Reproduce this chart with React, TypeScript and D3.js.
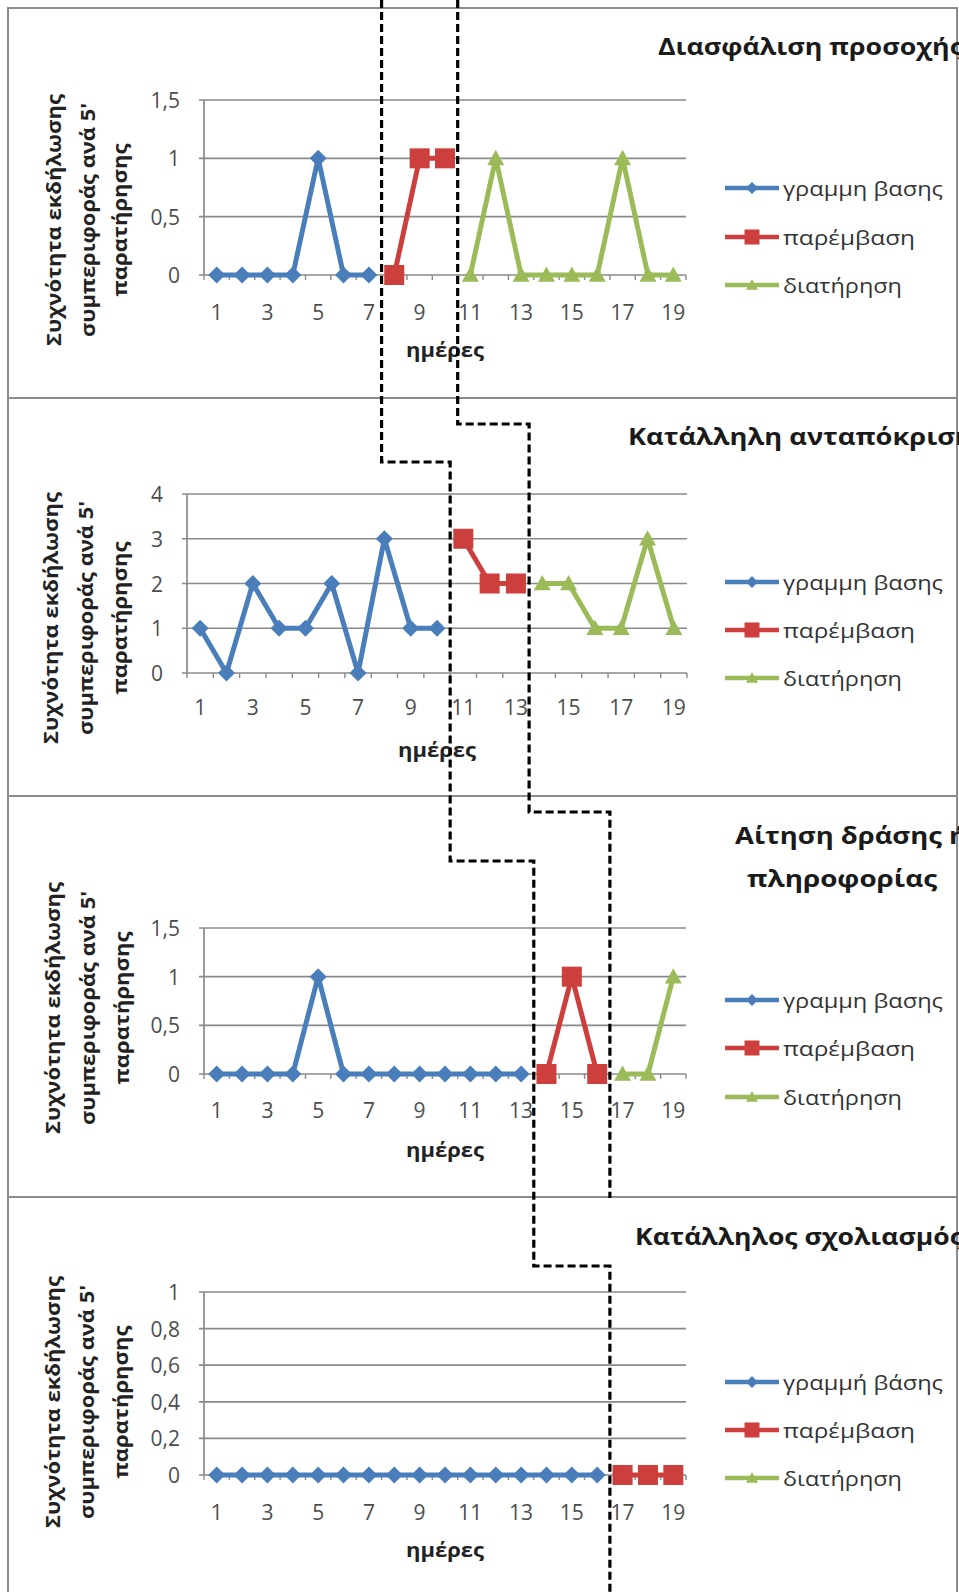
import React from "react";
import * as d3 from "d3";

// days on the x axis and the ones that carry a label
const days = [1, 2, 3, 4, 5, 6, 7, 8, 9, 10, 11, 12, 13, 14, 15, 16, 17, 18, 19];
const dayLabels = [1, 3, 5, 7, 9, 11, 13, 15, 17, 19];

const yTitleLines = ["Συχνότητα εκδήλωσης", "συμπεριφοράς ανά 5'", "παρατήρησης"];
const xTitle = "ημέρες";
const seriesNames = ["γραμμη βασης", "παρέμβαση", "διατήρηση"];
const seriesNamesLast = ["γραμμή βάσης", "παρέμβαση", "διατήρηση"];

// panel 1
const p1Title = ["Διασφάλιση προσοχής"];
const p1Baseline = [0, 0, 0, 0, 1, 0, 0];
const p1Intervention = [0, 1, 1];
const p1Maintenance = [0, 1, 0, 0, 0, 0, 1, 0, 0];
const p1Ticks = [0, 0.5, 1, 1.5];
const p1TickLabels = ["0", "0,5", "1", "1,5"];

// panel 2
const p2Title = ["Κατάλληλη ανταπόκριση"];
const p2Baseline = [1, 0, 2, 1, 1, 2, 0, 3, 1, 1];
const p2Intervention = [3, 2, 2];
const p2Maintenance = [2, 2, 1, 1, 3, 1];
const p2Ticks = [0, 1, 2, 3, 4];
const p2TickLabels = ["0", "1", "2", "3", "4"];

// panel 3
const p3Title = ["Αίτηση δράσης ή", "πληροφορίας"];
const p3Baseline = [0, 0, 0, 0, 1, 0, 0, 0, 0, 0, 0, 0, 0];
const p3Intervention = [0, 1, 0];
const p3Maintenance = [0, 0, 1];
const p3Ticks = [0, 0.5, 1, 1.5];
const p3TickLabels = ["0", "0,5", "1", "1,5"];

// panel 4
const p4Title = ["Κατάλληλος σχολιασμός"];
const p4Baseline = [0, 0, 0, 0, 0, 0, 0, 0, 0, 0, 0, 0, 0, 0, 0, 0];
const p4Intervention = [0, 0, 0];
const p4Maintenance: number[] = [];
const p4Ticks = [0, 0.2, 0.4, 0.6, 0.8, 1];
const p4TickLabels = ["0", "0,2", "0,4", "0,6", "0,8", "1"];

const BLUE = "#4a7ebb";
const RED = "#cc3f3c";
const GREEN = "#9bbb59";
const GRID = "#8a8a8a";
const FONT = "'Open Sans', 'DejaVu Sans', sans-serif";

const W = 959;
const H = 1592;

const panels = [
  {
    title: p1Title, series: [p1Baseline, p1Intervention, p1Maintenance], ticks: p1Ticks, tickLabels: p1TickLabels,
    names: seriesNames,
    top: 8, bottom: 398, left: 204, right: 686, plotTop: 100, plotBottom: 275,
    yTitleX: [54, 88, 120], yTitleY: 220, tickY: 312, xTitleY: 350, legendY: [188, 237, 285],
    titlePos: [{ x: 658, y: 46, len: 305 }],
  },
  {
    title: p2Title, series: [p2Baseline, p2Intervention, p2Maintenance], ticks: p2Ticks, tickLabels: p2TickLabels,
    names: seriesNames,
    top: 398, bottom: 796, left: 187, right: 687, plotTop: 494, plotBottom: 673,
    yTitleX: [51, 86, 120], yTitleY: 618, tickY: 707, xTitleY: 750, legendY: [582, 630, 678],
    titlePos: [{ x: 628, y: 436, len: 345 }],
  },
  {
    title: p3Title, series: [p3Baseline, p3Intervention, p3Maintenance], ticks: p3Ticks, tickLabels: p3TickLabels,
    names: seriesNames,
    top: 796, bottom: 1197, left: 204, right: 686, plotTop: 928, plotBottom: 1074,
    yTitleX: [53, 88, 122], yTitleY: 1008, tickY: 1110, xTitleY: 1150, legendY: [1000, 1048, 1097],
    titlePos: [{ x: 735, y: 835, len: 232 }, { x: 747, y: 878, len: 190 }],
  },
  {
    title: p4Title, series: [p4Baseline, p4Intervention, p4Maintenance], ticks: p4Ticks, tickLabels: p4TickLabels,
    names: seriesNamesLast,
    top: 1197, bottom: 1610, left: 204, right: 686, plotTop: 1292, plotBottom: 1475,
    yTitleX: [53, 87, 121], yTitleY: 1402, tickY: 1512, xTitleY: 1550, legendY: [1382, 1430, 1478],
    titlePos: [{ x: 635, y: 1236, len: 328 }],
  },
];

const colors = [BLUE, RED, GREEN];

function Marker({ kind, x, y, s }: { kind: number; x: number; y: number; s: number }) {
  const c = colors[kind];
  if (kind === 0) {
    return <path d={`M${x},${y - s}L${x + s},${y}L${x},${y + s}L${x - s},${y}Z`} fill={c} />;
  }
  if (kind === 1) {
    return <rect x={x - s} y={y - s} width={2 * s} height={2 * s} fill={c} />;
  }
  return <path d={`M${x},${y - s}L${x + s},${y + s * 0.8}L${x - s},${y + s * 0.8}Z`} fill={c} />;
}

function Panel({ p }: { p: (typeof panels)[number] }) {
  const x = d3.scaleBand<number>().domain(days).range([p.left, p.right]).padding(0);
  const yMax = p.ticks[p.ticks.length - 1];
  const y = d3.scaleLinear().domain([0, yMax]).range([p.plotBottom, p.plotTop]);
  const bw = x.bandwidth();

  // each series starts where the previous one ended
  let start = 0;
  const runs = p.series.map((vals, k) => {
    const pts = vals.map((v, i) => ({ day: days[start + i], v }));
    start += vals.length;
    return { k, pts };
  });

  const line = d3
    .line<{ day: number; v: number }>()
    .x((d) => x(d.day)! + bw / 2)
    .y((d) => y(d.v));

  const midX = (p.left + p.right) / 2;

  return (
    <g>
      {/* gridlines */}
      {p.ticks.map((t) => (
        <line key={"g" + t} x1={p.left - 5} x2={p.right} y1={y(t)} y2={y(t)} stroke={GRID} strokeWidth={1.7} />
      ))}
      {/* y axis */}
      <line x1={p.left} x2={p.left} y1={p.plotTop} y2={p.plotBottom} stroke={GRID} strokeWidth={1.7} />
      {/* x ticks */}
      {[...days.map((d) => x(d)!), p.right].map((tx, i) => (
        <line key={"t" + i} x1={tx} x2={tx} y1={p.plotBottom} y2={p.plotBottom + 5} stroke={GRID} strokeWidth={1.4} />
      ))}
      {/* y tick labels */}
      {p.ticks.map((t, i) => (
        <text key={"yl" + t} x={p.left - 24} y={y(t)} textAnchor="end" dominantBaseline="central"
          fontSize={21} fill="#4d4d4d" fontFamily={FONT}>
          {p.tickLabels[i]}
        </text>
      ))}
      {/* x tick labels */}
      {dayLabels.map((d) => (
        <text key={"xl" + d} x={x(d)! + bw / 2} y={p.tickY} textAnchor="middle" dominantBaseline="central"
          fontSize={21} fill="#4d4d4d" fontFamily={FONT}>
          {d}
        </text>
      ))}
      {/* series */}
      {runs.map((r) =>
        r.pts.length ? (
          <g key={"s" + r.k}>
            <path d={line(r.pts)!} fill="none" stroke={colors[r.k]} strokeWidth={5} strokeLinejoin="round" />
            {r.pts.map((pt) => (
              <Marker key={pt.day} kind={r.k} x={x(pt.day)! + bw / 2} y={y(pt.v)} s={r.k === 1 ? 10 : 8.5} />
            ))}
          </g>
        ) : null
      )}
      {/* axis titles */}
      <text x={midX} y={p.xTitleY} textAnchor="middle" dominantBaseline="central" fontSize={19}
        fontWeight="bold" fill="#222" fontFamily={FONT} textLength={78} lengthAdjust="spacingAndGlyphs">
        {xTitle}
      </text>
      {yTitleLines.map((t, i) => (
        <text key={"yt" + i} x={p.yTitleX[i]} y={p.yTitleY} transform={`rotate(-90, ${p.yTitleX[i]}, ${p.yTitleY})`}
          textAnchor="middle" dominantBaseline="central" fontSize={19} fontWeight="bold" fill="#222"
          fontFamily={FONT} textLength={[252, 234, 153][i]} lengthAdjust="spacingAndGlyphs">
          {t}
        </text>
      ))}
      {/* legend */}
      {p.names.map((n, k) => (
        <g key={"lg" + k}>
          <line x1={725} x2={779} y1={p.legendY[k]} y2={p.legendY[k]} stroke={colors[k]} strokeWidth={4.5} />
          <Marker kind={k} x={752} y={p.legendY[k]} s={k === 1 ? 7.5 : 6} />
          <text x={783} y={p.legendY[k]} dominantBaseline="central" fontSize={20} fill="#333" fontFamily={FONT}
            textLength={[160, 132, 119][k]} lengthAdjust="spacingAndGlyphs">
            {n}
          </text>
        </g>
      ))}
      {/* chart title */}
      {p.title.map((t, i) => (
        <text key={"ti" + i} x={p.titlePos[i].x} y={p.titlePos[i].y} dominantBaseline="central" fontSize={23}
          fontWeight="bold" fill="#1a1a1a" fontFamily={FONT} textLength={p.titlePos[i].len}
          lengthAdjust="spacingAndGlyphs">
          {t}
        </text>
      ))}
    </g>
  );
}

export default function App() {
  const scales = panels.map((p) => d3.scaleBand<number>().domain(days).range([p.left, p.right]).padding(0));
  // phase change positions come from the series lengths
  const breakAfter = (pi: number, k: number) => {
    const n = panels[pi].series.slice(0, k + 1).reduce((a, s) => a + s.length, 0);
    const sc = scales[pi];
    return sc(days[n - 1])! + sc.bandwidth();
  };
  const stepsA = [462, 861, 1266];
  const stepsB = [424, 812];

  const pathA: [number, number][] = [[breakAfter(0, 0), 0]];
  stepsA.forEach((sy, i) => {
    pathA.push([breakAfter(i, 0), sy]);
    pathA.push([breakAfter(i + 1, 0), sy]);
  });
  pathA.push([breakAfter(3, 0), H]);

  const pathB: [number, number][] = [[breakAfter(0, 1), 0]];
  stepsB.forEach((sy, i) => {
    pathB.push([breakAfter(i, 1), sy]);
    pathB.push([breakAfter(i + 1, 1), sy]);
  });
  pathB.push([breakAfter(2, 1), 1198]);

  const dash = d3.line();

  return (
    <div style={{ position: "absolute", left: 0, top: 0 }}>
      <svg width={W} height={H} viewBox={`0 0 ${W} ${H}`} style={{ display: "block", background: "#fff" }}>
        <rect x={0} y={0} width={W} height={H} fill="#fff" />
        {panels.map((p, i) => (
          <rect key={"b" + i} x={8} y={p.top} width={949} height={p.bottom - p.top} fill="#fff"
            stroke="#8c8c8c" strokeWidth={2} />
        ))}
        {panels.map((p, i) => (
          <Panel key={i} p={p} />
        ))}
        <path d={dash(pathA)!} fill="none" stroke="#000" strokeWidth={3.2} strokeDasharray="8 4" />
        <path d={dash(pathB)!} fill="none" stroke="#000" strokeWidth={3.2} strokeDasharray="8 4" />
      </svg>
    </div>
  );
}
